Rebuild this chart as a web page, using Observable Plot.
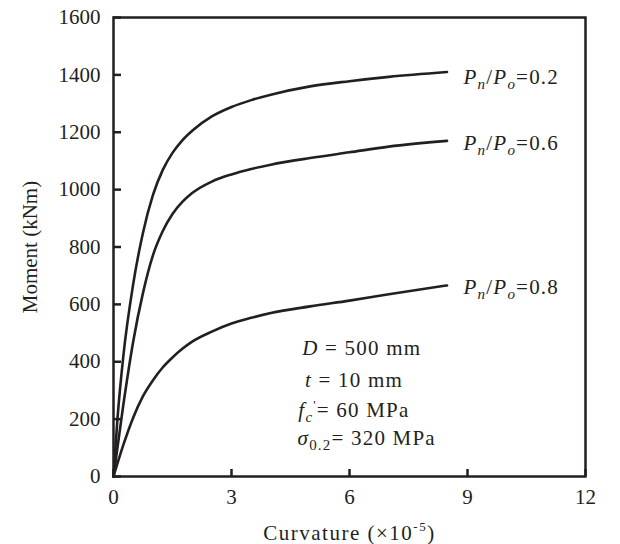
<!DOCTYPE html>
<html><head><meta charset="utf-8">
<script src="https://cdn.jsdelivr.net/npm/d3@7"></script>
<script src="https://cdn.jsdelivr.net/npm/@observablehq/plot@0.6"></script>
<style>
body{margin:0;background:#fff}
#chart svg, #chart svg text, #chart svg tspan{font-family:"Liberation Serif","Times New Roman",serif !important}
</style>
</head><body><div id="chart"></div>
<script>
// Curvature (x10^-5) vs Moment (kNm) for three axial load ratios
const ratios = ["0.2", "0.6", "0.8"];
const curvature02 = [0, 0.1, 0.25, 0.5, 0.75, 1.0, 1.25, 1.5, 1.75, 2.0, 2.5, 3.0, 3.5, 4.0, 5.0, 6.0, 7.0, 8.48];
const moment02    = [0, 200, 420, 670, 850, 980, 1068, 1128, 1172, 1205, 1255, 1288, 1312, 1331, 1360, 1378, 1393, 1410];
const curvature06 = [0, 0.25, 0.5, 0.75, 1.0, 1.25, 1.5, 1.75, 2.0, 2.5, 3.0, 3.5, 4.0, 5.0, 6.0, 7.0, 8.48];
const moment06    = [0, 250, 470, 640, 770, 855, 915, 957, 988, 1028, 1053, 1072, 1087, 1110, 1130, 1150, 1170];
const curvature08 = [0, 0.25, 0.5, 0.75, 1.0, 1.25, 1.5, 1.75, 2.0, 2.5, 3.0, 3.5, 4.0, 5.0, 6.0, 7.0, 8.48];
const moment08    = [0, 110, 205, 280, 335, 380, 415, 445, 470, 505, 533, 553, 570, 593, 613, 635, 666];
const xTicks = [0, 3, 6, 9, 12];
const yTicks = [0, 200, 400, 600, 800, 1000, 1200, 1400, 1600];
const labelCurvature = [8.9, 8.9, 8.9];
const labelMoment = [1392, 1162, 660];
const paramText = ["D = 500 mm", "t = 10 mm", "fc'= 60 MPa", "s0.2= 320 MPa"];
const paramCurvature = [4.8, 4.87, 4.7, 4.68];
const paramMoment = [446, 335, 230, 132];
const paramRich = [
  '<tspan font-style="italic">D</tspan> = 500 mm',
  '<tspan font-style="italic">t</tspan> = 10 mm',
  '<tspan font-style="italic">f</tspan><tspan font-style="italic" font-size="15" dy="5">c</tspan><tspan font-size="13" dy="-13">\'</tspan><tspan dy="8">= 60 MPa</tspan>',
  '<tspan font-style="italic">σ</tspan><tspan font-size="15" dy="5">0.2</tspan><tspan dy="-5">= 320 MPa</tspan>'
];

const ink = "#231f20";
const rows = [];
[[curvature02, moment02], [curvature06, moment06], [curvature08, moment08]].forEach(([xs, ys], i) => {
  xs.forEach((x, j) => rows.push({series: ratios[i], curvature: x, moment: ys[j]}));
});
const curveLabels = ratios.map((r, i) => ({text: "Pn/Po=" + r, ratio: r, x: labelCurvature[i], y: labelMoment[i]}));
const params = paramText.map((t, i) => ({text: t, rich: paramRich[i], x: paramCurvature[i], y: paramMoment[i]}));

const chart = Plot.plot({
  width: 620, height: 544,
  marginLeft: 113, marginRight: 35, marginTop: 17, marginBottom: 68,
  style: {fontFamily: "Liberation Serif, serif", fontSize: "21px", color: ink, background: "#fff"},
  x: {domain: [0, 12]},
  y: {domain: [0, 1600]},
  marks: [
    Plot.axisX(xTicks, {tickSize: -7, tickPadding: 20, strokeWidth: 2.5, fontSize: 21, tickFormat: (d) => String(d), label: "Curvature (×10-5)", labelAnchor: "center", labelOffset: 63, labelArrow: "none"}),
    Plot.axisY(yTicks, {tickSize: -8, tickPadding: 21, strokeWidth: 2.5, fontSize: 21, tickFormat: (d) => String(d), label: "Moment (kNm)", labelAnchor: "center", labelOffset: 91, labelArrow: "none"}),
    Plot.frame({stroke: ink, strokeWidth: 2.5}),
    Plot.line(rows, {x: "curvature", y: "moment", z: "series", stroke: ink, strokeWidth: 2.6, curve: "monotone-x"}),
    Plot.text(curveLabels, {x: "x", y: "y", text: "text", textAnchor: "start", lineAnchor: "middle", fontSize: 21, fill: ink, className: "curve-label"}),
    Plot.text(params, {x: "x", y: "y", text: "text", textAnchor: "start", lineAnchor: "middle", fontSize: 21, fill: ink, className: "param-label"})
  ]
});
document.getElementById("chart").appendChild(chart);

// Rich formatting (italics, sub/superscripts) of the real text
chart.querySelectorAll(".curve-label text").forEach((el, i) => {
  const r = curveLabels[i].ratio;
  el.setAttribute("letter-spacing", "1.2");
  el.innerHTML = `<tspan font-style="italic">P</tspan><tspan font-style="italic" font-size="15" dy="5">n</tspan><tspan dy="-5">/</tspan><tspan font-style="italic">P</tspan><tspan font-style="italic" font-size="15" dy="5">o</tspan><tspan dy="-5">=${r}</tspan>`;
});
chart.querySelectorAll(".param-label text").forEach((el, i) => {
  el.setAttribute("letter-spacing", "1.2");
  el.innerHTML = params[i].rich;
});
chart.querySelectorAll("text").forEach((el) => {
  if (el.textContent === "Curvature (×10-5)") {
    el.style.fontSize = "21px";
    el.setAttribute("letter-spacing", "1.5");
    el.innerHTML = 'Curvature (×10<tspan font-size="13" dy="-9">-5</tspan><tspan dy="9">)</tspan>';
  } else if (el.textContent === "Moment (kNm)") {
    el.style.fontSize = "21px";
  }
});
</script>
</body></html>
